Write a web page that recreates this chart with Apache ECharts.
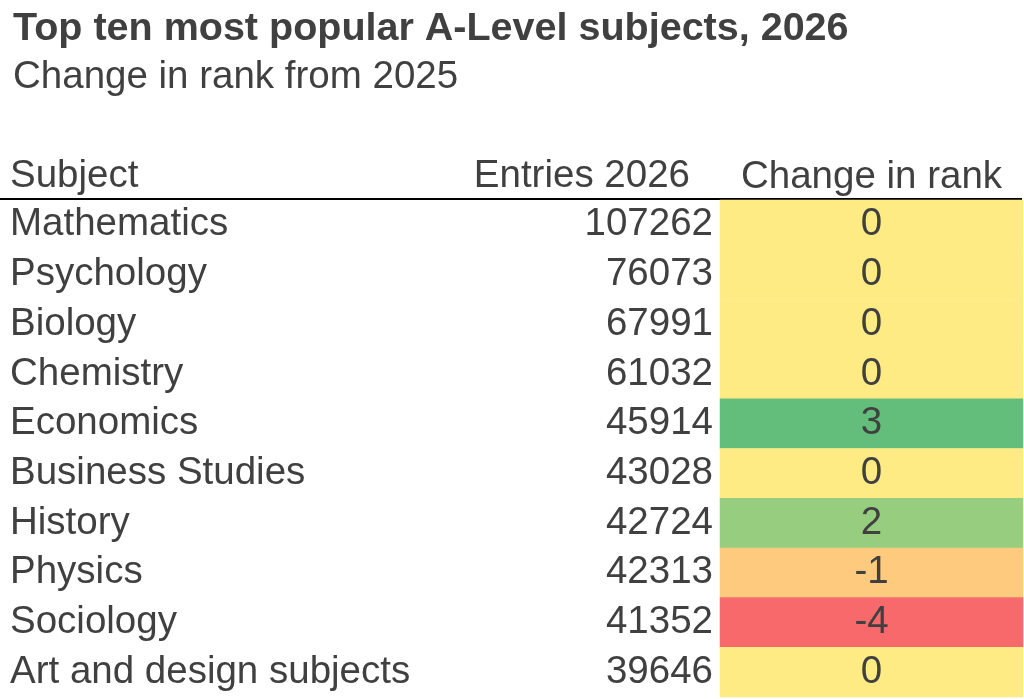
<!DOCTYPE html>
<html>
<head>
<meta charset="utf-8">
<script src="https://cdn.jsdelivr.net/npm/echarts@6/dist/echarts.min.js"></script>
<style>
html, body { margin: 0; padding: 0; background: #fff; }
#container { width: 1024px; height: 699px; }
</style>
</head>
<body>
<div id="container"></div>
<script>
var subjects = ['Mathematics', 'Psychology', 'Biology', 'Chemistry', 'Economics',
    'Business Studies', 'History', 'Physics', 'Sociology', 'Art and design subjects'];
var entries = [107262, 76073, 67991, 61032, 45914, 43028, 42724, 42313, 41352, 39646];
var rankChange = [0, 0, 0, 0, 3, 0, 2, -1, -4, 0];
var columnNames = ['Subject', 'Entries 2026', 'Change in rank'];

var dom = document.getElementById('container');
var myChart = echarts.init(dom);
var font = 'Liberation Sans, Arial, sans-serif';
var ink = '#404040';
var size = 38.5;

// heatmap cells: [column, row, change]
var cells = [];
for (var i = 0; i < subjects.length; i++) {
    cells.push([0, i, rankChange[i]]);
}

var option = {
    backgroundColor: '#fff',
    textStyle: { fontFamily: font },
    title: [
        {
            text: 'Top ten most popular A-Level subjects, 2026',
            left: 8, top: 4,
            textStyle: { fontFamily: font, fontSize: 39.5, fontWeight: 'bold', color: ink }
        },
        {
            text: 'Change in rank from 2025',
            left: 8, top: 53,
            textStyle: { fontFamily: font, fontSize: size, fontWeight: 'normal', color: ink }
        }
    ],
    grid: { left: 720, right: 1, top: 200, bottom: 2 },
    xAxis: {
        type: 'category',
        position: 'top',
        data: [columnNames[2]],
        axisLine: { show: false },
        axisTick: { show: false },
        splitLine: { show: false },
        axisLabel: { fontFamily: font, fontSize: size, color: ink, margin: 3 }
    },
    yAxis: [
        {
            type: 'category',
            inverse: true,
            data: subjects,
            position: 'left',
            axisLine: { show: false },
            axisTick: { show: false },
            axisLabel: {
                interval: 0, fontFamily: font, fontSize: size, color: ink,
                margin: 710, align: 'left', padding: [6, 0, 0, 0]
            }
        },
        {
            type: 'category',
            inverse: true,
            data: entries.map(String),
            position: 'left',
            axisLine: { show: false },
            axisTick: { show: false },
            axisLabel: {
                interval: 0, fontFamily: font, fontSize: size, color: ink,
                margin: 7, align: 'right', padding: [6, 0, 0, 0]
            }
        }
    ],
    visualMap: {
        show: false,
        type: 'continuous',
        min: -4,
        max: 3,
        dimension: 2,
        inRange: {
            color: ['#F8696B', '#FA8A71', '#FCAA78', '#FDCA7E', '#FFEB84', '#CBDC81', '#97CD7E', '#63BE7B']
        }
    },
    graphic: [
        {
            type: 'text', left: 10, top: 157,
            style: { text: columnNames[0], font: size + 'px ' + font, fill: ink }
        },
        {
            type: 'text', right: 334, top: 157,
            style: { text: columnNames[1], font: size + 'px ' + font, fill: ink }
        },
        {
            type: 'line',
            shape: { x1: 0, y1: 199, x2: 1022, y2: 199 },
            style: { stroke: '#000', lineWidth: 2 }
        }
    ],
    series: [
        {
            type: 'heatmap',
            data: cells,
            label: {
                show: true,
                fontFamily: font,
                fontSize: size,
                color: ink,
                padding: [6, 0, 0, 0],
                formatter: function (p) { return p.value[2]; }
            },
            emphasis: { disabled: true }
        }
    ]
};

myChart.setOption(option);
</script>
</body>
</html>
